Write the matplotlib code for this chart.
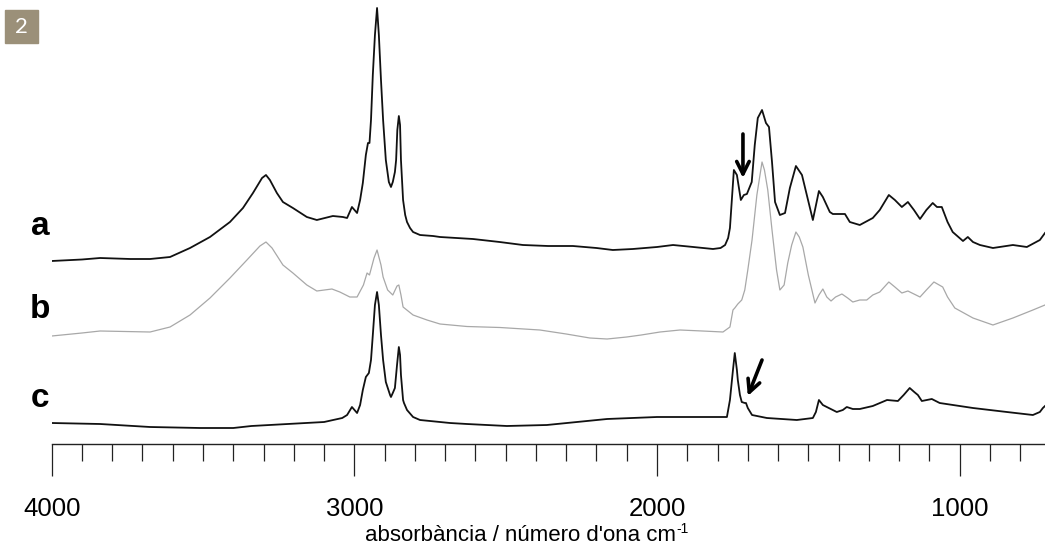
import matplotlib
matplotlib.use("Agg")
import matplotlib.pyplot as plt
import numpy as np

plt.rcParams['font.family'] = ['Liberation Sans', 'DejaVu Sans']

# ---- data: wavenumber (cm-1) and stacked absorbance (arbitrary units) ----
wn_a = [4000, 3900, 3840, 3740, 3675, 3609, 3543, 3477, 3411, 3368, 3335, 3305, 3292, 3279,
        3256, 3236, 3203, 3157, 3124, 3071, 3038, 3024, 3008, 2991, 2981, 2972, 2962, 2955,
        2950, 2945, 2939, 2932, 2925, 2919, 2912, 2905, 2896, 2886, 2879, 2873, 2866, 2862,
        2858, 2853, 2849, 2846, 2839, 2832, 2826, 2816, 2806, 2783, 2740, 2717, 2608, 2520,
        2443, 2360, 2278, 2200, 2146, 2080, 2000, 1947, 1880, 1815, 1790, 1775, 1765, 1759,
        1746, 1736, 1723, 1713, 1703, 1687, 1677, 1667, 1653, 1640, 1630, 1620, 1610, 1594,
        1577, 1561, 1541, 1521, 1505, 1485, 1465, 1452, 1429, 1419, 1379, 1363, 1330, 1287,
        1264, 1234, 1214, 1191, 1171, 1151, 1131, 1110, 1089, 1075, 1059, 1040, 1023, 989,
        973, 956, 933, 890, 824, 778, 735, 718]
abs_a = [1.83, 1.845, 1.86, 1.85, 1.85, 1.87, 1.96, 2.07, 2.22, 2.36, 2.51, 2.66, 2.69, 2.64,
         2.51, 2.42, 2.36, 2.27, 2.24, 2.28, 2.27, 2.26, 2.37, 2.31, 2.44, 2.61, 2.89, 3.01,
         3.01, 3.24, 3.69, 4.09, 4.36, 4.09, 3.64, 3.24, 2.84, 2.62, 2.57, 2.62, 2.72, 2.84,
         3.14, 3.28, 3.19, 2.84, 2.44, 2.29, 2.22, 2.16, 2.12, 2.09, 2.08, 2.07, 2.05, 2.02,
         1.99, 1.98, 1.98, 1.96, 1.94, 1.95, 1.97, 1.99, 1.97, 1.95, 1.96, 1.99, 2.06, 2.16,
         2.74, 2.69, 2.44, 2.49, 2.50, 2.62, 2.99, 3.26, 3.34, 3.21, 3.17, 2.82, 2.42, 2.29,
         2.31, 2.56, 2.78, 2.69, 2.49, 2.24, 2.53, 2.47, 2.32, 2.30, 2.30, 2.22, 2.19, 2.26,
         2.34, 2.49, 2.44, 2.37, 2.42, 2.34, 2.25, 2.34, 2.41, 2.37, 2.37, 2.22, 2.12, 2.03,
         2.07, 2.02, 1.99, 1.96, 1.99, 1.97, 2.04, 2.11]

wn_b = [4000, 3900, 3840, 3675, 3609, 3543, 3477, 3411, 3355, 3312, 3292, 3272, 3236, 3203,
        3157, 3124, 3074, 3048, 3015, 2991, 2970, 2958, 2950, 2935, 2925, 2912, 2905, 2890,
        2873, 2859, 2853, 2846, 2839, 2806, 2760, 2717, 2628, 2519, 2387, 2300, 2222, 2165,
        2100, 2052, 1990, 1924, 1850, 1782, 1759, 1749, 1743, 1733, 1720, 1710, 1700, 1686,
        1670, 1653, 1645, 1634, 1620, 1605, 1594, 1580, 1568, 1555, 1541, 1530, 1518, 1500,
        1478, 1465, 1452, 1439, 1425, 1410, 1389, 1370, 1353, 1330, 1307, 1287, 1264, 1234,
        1214, 1191, 1171, 1131, 1110, 1085, 1056, 1040, 1016, 956, 890, 824, 758, 718]
abs_b = [1.08, 1.11, 1.13, 1.12, 1.17, 1.29, 1.46, 1.66, 1.84, 1.98, 2.02, 1.96, 1.79, 1.71,
         1.59, 1.53, 1.55, 1.52, 1.47, 1.47, 1.59, 1.71, 1.69, 1.86, 1.94, 1.79, 1.67, 1.54,
         1.49, 1.58, 1.59, 1.49, 1.37, 1.29, 1.24, 1.20, 1.175, 1.165, 1.14, 1.10, 1.06, 1.05,
         1.07, 1.09, 1.12, 1.14, 1.13, 1.12, 1.17, 1.34, 1.36, 1.40, 1.44, 1.54, 1.74, 2.04,
         2.49, 2.82, 2.74, 2.54, 2.14, 1.74, 1.54, 1.59, 1.81, 1.99, 2.12, 2.07, 1.97, 1.69,
         1.41, 1.49, 1.55, 1.47, 1.43, 1.47, 1.50, 1.46, 1.42, 1.44, 1.44, 1.49, 1.52, 1.62,
         1.57, 1.51, 1.53, 1.47, 1.54, 1.62, 1.57, 1.47, 1.36, 1.26, 1.19, 1.26, 1.34, 1.39]

wn_c = [4000, 3840, 3675, 3510, 3400, 3340, 3100, 3040, 3024, 3008, 2991, 2981, 2972, 2962,
        2952, 2945, 2939, 2932, 2925, 2919, 2912, 2905, 2896, 2882, 2879, 2873, 2866, 2859,
        2853, 2849, 2846, 2839, 2836, 2826, 2806, 2783, 2684, 2628, 2496, 2364, 2165, 2000,
        1835, 1769, 1759, 1749, 1743, 1736, 1733, 1726, 1720, 1710, 1706, 1700, 1686, 1637,
        1538, 1485, 1475, 1465, 1452, 1439, 1406, 1386, 1373, 1353, 1330, 1287, 1240, 1204,
        1185, 1165, 1150, 1138, 1125, 1092, 1066, 956, 844, 758, 735, 725, 718]
abs_c = [0.21, 0.20, 0.17, 0.16, 0.16, 0.18, 0.22, 0.26, 0.29, 0.37, 0.31, 0.39, 0.54, 0.67,
         0.71, 0.84, 1.09, 1.39, 1.52, 1.39, 1.09, 0.84, 0.62, 0.49, 0.47, 0.51, 0.56, 0.79,
         0.97, 0.89, 0.69, 0.44, 0.41, 0.34, 0.27, 0.24, 0.21, 0.20, 0.18, 0.19, 0.25, 0.27,
         0.27, 0.27, 0.44, 0.74, 0.91, 0.74, 0.64, 0.49, 0.42, 0.41, 0.41, 0.36, 0.29, 0.26,
         0.24, 0.26, 0.32, 0.44, 0.39, 0.37, 0.32, 0.34, 0.37, 0.35, 0.35, 0.38, 0.44, 0.43,
         0.49, 0.56, 0.52, 0.49, 0.43, 0.45, 0.41, 0.36, 0.32, 0.29, 0.32, 0.36, 0.38]

trace_labels = ['a', 'b', 'c']
label_levels = [2.09, 1.26, 0.37]
major_ticks = [4000, 3000, 2000, 1000]
tick_labels = ['4000', '3000', '2000', '1000']
minor_ticks = list(range(3900, 700, -100))
arrow_1 = (1716, 3.10, 1716, 2.66)   # x0, y0, x1, y1
arrow_2 = (1653, 0.84, 1700, 0.48)
xlabel_main = "absorbància / número d'ona cm"
xlabel_sup = "-1"

W, H = 1045, 549
fig = plt.figure(figsize=(W / 100, H / 100), dpi=100)
left_px, bottom_px = 51.7, 444
ax = fig.add_axes([left_px / W, 1 - bottom_px / H, 1 - left_px / W, bottom_px / H])

ax.plot(wn_a, abs_a, color='#111111', lw=1.3, solid_joinstyle='round')
ax.plot(wn_b, abs_b, color='#a8a8a8', lw=0.9, solid_joinstyle='round')
ax.plot(wn_c, abs_c, color='#111111', lw=1.3, solid_joinstyle='round')

ax.set_xlim(4000, 718)
ax.set_ylim(0, 4.44)

for s in ['top', 'left', 'right']:
    ax.spines[s].set_visible(False)
ax.spines['bottom'].set_linewidth(1.0)
ax.spines['bottom'].set_color('#222222')
ax.set_yticks([])
ax.set_xticks(major_ticks)
ax.set_xticklabels(tick_labels)
ax.set_xticks(minor_ticks, minor=True)
ax.tick_params(axis='x', which='major', direction='out', length=23, width=0.9,
               labelsize=18.5, pad=15, color='#222222')
ax.tick_params(axis='x', which='minor', direction='out', length=12, width=0.9, color='#222222')
ax.patch.set_alpha(0)

for lab, lev in zip(trace_labels, label_levels):
    ax.text(-0.002, lev, lab, transform=ax.get_yaxis_transform(), ha='right', va='baseline',
            fontsize=24, fontweight='bold', clip_on=False)

for (x0, y0, x1, y1) in [arrow_1, arrow_2]:
    ax.annotate('', xy=(x1, y1), xytext=(x0, y0),
                arrowprops=dict(arrowstyle='->,head_length=0.9,head_width=0.45', lw=2.6,
                                color='black', shrinkA=0, shrinkB=0))

# x label with a real superscript "-1"
fig.canvas.draw()
renderer = fig.canvas.get_renderer()
probe_main = fig.text(0, 0, xlabel_main, fontsize=16)
probe_sup = fig.text(0, 0, xlabel_sup, fontsize=10)
w_main = probe_main.get_window_extent(renderer).width
w_sup = probe_sup.get_window_extent(renderer).width
probe_main.remove()
probe_sup.remove()
x_start = 527 - (w_main + w_sup) / 2
base_y = 541
fig.text(x_start / W, 1 - base_y / H, xlabel_main, fontsize=16, ha='left', va='baseline')
fig.text((x_start + w_main) / W, 1 - (base_y - 8) / H, xlabel_sup, fontsize=10,
         ha='left', va='baseline')

# badge
fig.patches.append(matplotlib.patches.Rectangle((5 / W, 1 - 43 / H), 33 / W, 33 / H,
                                                transform=fig.transFigure, color='#9b9079'))
fig.text(21.5 / W, 1 - 27 / H, '2', color='white', ha='center', va='center',
         fontsize=16, fontweight='normal', family=['Lato', 'DejaVu Sans'])

fig.savefig('out.png', dpi=100)
